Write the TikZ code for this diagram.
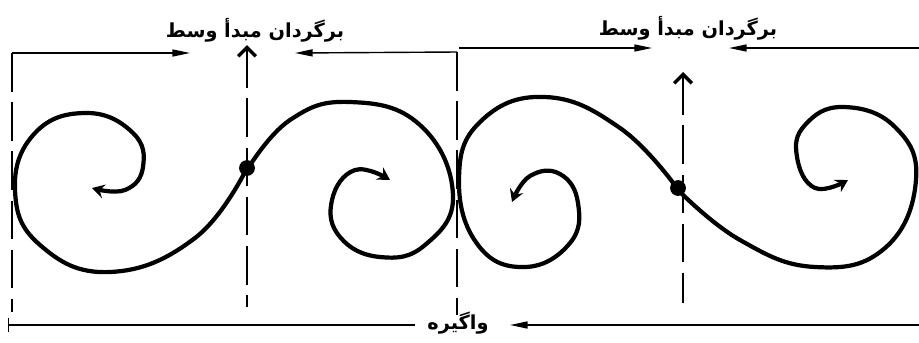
\documentclass[tikz,border=0pt]{standalone}
\usepackage{fontspec}
\newfontfamily\arabicfont[Script=Arabic]{DejaVu Sans}
\TeXXeTstate=1
\usetikzlibrary{arrows.meta}

\begin{document}
\begin{tikzpicture}[
		x=0.02cm, y=-0.02cm,
		spiral/.style={line width=2.4pt, line cap=round, -{Stealth[length=7pt,width=8pt,inset=2.5pt]}},
		guide/.style={line width=1.1pt, dash pattern=on 22pt off 6pt},
		dimarrow/.style={line width=0.8pt, -{Triangle[length=10pt,width=4pt]}},
		axisarrow/.style={line width=1.6pt, {Straight Barb[length=5pt,width=10pt,line width=2pt]}-},
		lbl/.style={font=\arabicfont\bfseries\fontsize{11}{13}\selectfont, inner sep=1pt},
		pivot/.style={circle, fill, inner sep=0pt, minimum size=9pt}
		]
	\useasboundingbox (0,0) rectangle (919,342);

	% labels
	\node[lbl] (lblL) at (255,30) {\beginR برگردان مبدأ وسط\endR};
	\node[lbl] (lblR) at (688,28) {\beginR برگردان مبدأ وسط\endR};
	\node[lbl] (lblB) at (458,323) {\beginR واگیره\endR};

	% guide lines
	\coordinate (g1t) at (12,53);  \coordinate (g1b) at (12,312);
	\coordinate (g2t) at (247,45); \coordinate (g2b) at (247,307);
	\coordinate (g3t) at (457,52); \coordinate (g3b) at (457,315);
	\coordinate (g4t) at (683,72); \coordinate (g4b) at (683,303);
	\draw[guide] (g1t) -- (g1b);
	\draw[guide, axisarrow] (g2t) -- (g2b);
	\draw[guide] (g3t) -- (g3b);
	\draw[guide, axisarrow] (g4t) -- (g4b);

	% dimension arrows
	\coordinate (a1) at (190,53); \coordinate (a2) at (295,53);
	\coordinate (r0) at (459,48); \coordinate (r1) at (652,48);
	\coordinate (r2) at (729,48); \coordinate (r3) at (919,48);
	\coordinate (b0) at (8,325);  \coordinate (b1) at (415,325);
	\coordinate (b2) at (510,325); \coordinate (b3) at (919,325);
	\draw[dimarrow] (g1t) -- (a1);
	\draw[dimarrow] (g3t) -- (a2);
	\draw[dimarrow] (r0) -- (r1);
	\draw[dimarrow] (r3) -- (r2);
	\draw[dimarrow, {Bar[width=8pt]}-] (b0) -- (b1);
	\draw[dimarrow] (b3) -- (b2);

	% spirals
	\draw[spiral] plot[smooth, tension=0.75] coordinates {(247,168) (195,238) (110,272) (40,245) (15,190) (35,133) (87,113) (133,133) (143,167) (125,190) (92,188)};
	\draw[spiral] plot[smooth, tension=0.75] coordinates {(247,170) (290,120) (350,102) (420,125) (453,195) (425,245) (380,257) (340,237) (332,200) (355,170) (390,180)};
	\draw[spiral] plot[smooth, tension=0.75] coordinates {(677,188) (620,128) (545,97) (480,122) (459,180) (478,245) (525,267) (570,243) (578,203) (560,174) (530,176) (512,202)};
	\draw[spiral] plot[smooth, tension=0.75] coordinates {(678,190) (740,240) (815,267) (885,248) (916,180) (895,127) (843,107) (805,125) (797,157) (815,188) (848,180)};
	\node[pivot] (pL) at (247,168) {};
	\node[pivot] (pR) at (678,188) {};
\end{tikzpicture}
\end{document}
